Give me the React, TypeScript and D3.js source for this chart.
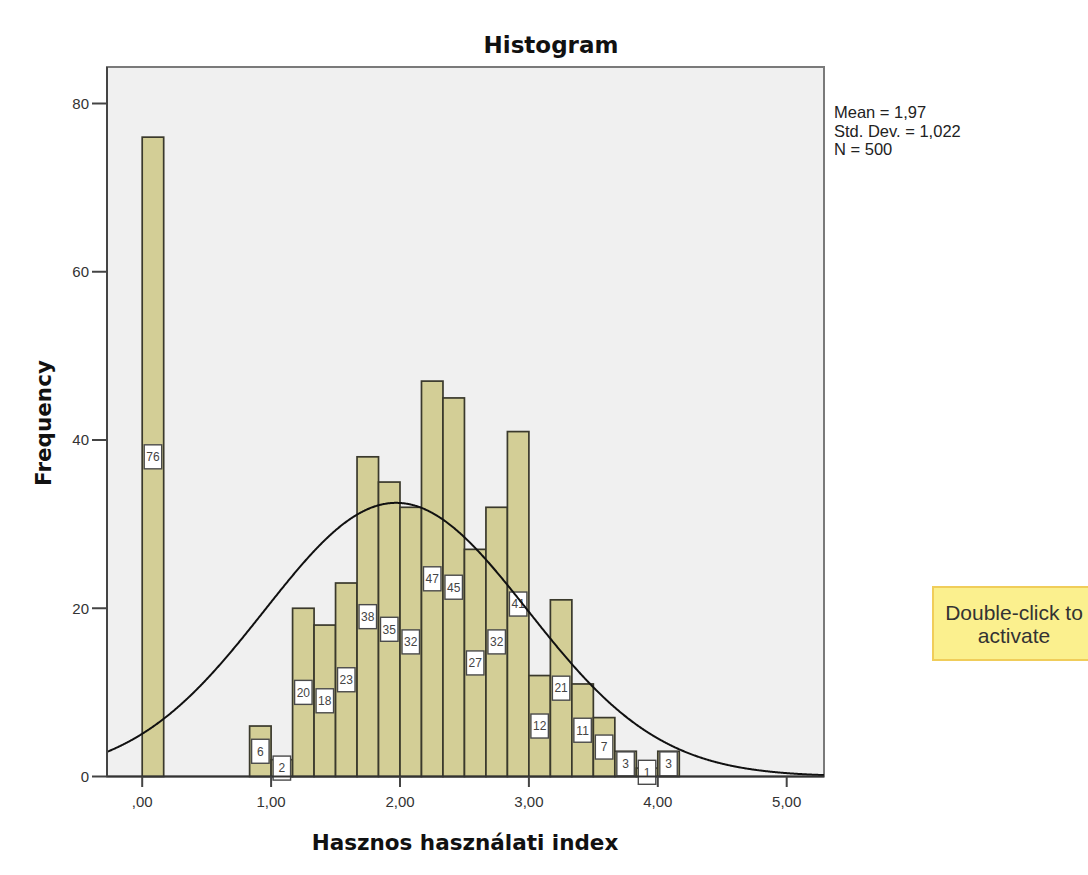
import React from 'react';
import * as d3 from 'd3';

// ---- data ----
const binStarts = [0.0, 0.8333, 1.0, 1.1667, 1.3333, 1.5, 1.6667, 1.8333, 2.0, 2.1667, 2.3333, 2.5, 2.6667, 2.8333, 3.0, 3.1667, 3.3333, 3.5, 3.6667, 3.8333, 4.0];
const counts = [76, 6, 2, 20, 18, 23, 38, 35, 32, 47, 45, 27, 32, 41, 12, 21, 11, 7, 3, 1, 3];
const binWidth = 1 / 6;
const xTicks = [0, 1, 2, 3, 4, 5];
const xTickLabels = [',00', '1,00', '2,00', '3,00', '4,00', '5,00'];
const yTicks = [0, 20, 40, 60, 80];
const statLines = ['Mean = 1,97', 'Std. Dev. = 1,022', 'N = 500'];
const mean = 1.97;
const stdDev = 1.022;
const nTotal = 500;

const BOLD = '"DejaVu Sans", Verdana, sans-serif';
const REG = '"Liberation Sans", Arial, sans-serif';

export default function App() {
  const plotLeft = 107;
  const plotRight = 824;
  const plotTop = 67;
  const plotBottom = 776.5;

  const x = d3.scaleLinear().domain([0, 5]).range([142.2, 786.7]);
  const y = d3.scaleLinear().domain([0, 80]).range([776.5, 103.5]);

  const pdf = (v: number) =>
    (nTotal * binWidth) / (stdDev * Math.sqrt(2 * Math.PI)) *
    Math.exp(-0.5 * ((v - mean) / stdDev) ** 2);
  const xs = d3.range(x.invert(plotLeft), x.invert(plotRight) + 0.005, 0.005);
  const line = d3
    .line<number>()
    .x((d) => x(d))
    .y((d) => y(pdf(d)))
    .curve(d3.curveLinear);

  return (
    <svg
      width={1088}
      height={875}
      style={{ position: 'absolute', left: 0, top: 0, background: '#fff' }}
    >
      <defs>
        <clipPath id="plotClip">
          <rect x={plotLeft} y={plotTop} width={plotRight - plotLeft} height={plotBottom - plotTop + 12} />
        </clipPath>
      </defs>
      {/* title */}
      <text x={551} y={53} textAnchor="middle" fontFamily={BOLD} fontWeight="bold" fontSize={23} fill="#111">
        Histogram
      </text>

      {/* plot background & frame */}
      <rect
        x={plotLeft}
        y={plotTop}
        width={plotRight - plotLeft}
        height={plotBottom - plotTop}
        fill="#F0F0F0"
        stroke="#7a7a7a"
        strokeWidth={2}
      />

      {/* bars */}
      {counts.map((c, i) => (
        <rect
          key={'b' + i}
          x={x(binStarts[i])}
          y={y(c)}
          width={x(binStarts[i] + binWidth) - x(binStarts[i])}
          height={y(0) - y(c)}
          fill="#D3CE96"
          stroke="#3a392c"
          strokeWidth={1.7}
        />
      ))}

      {/* value labels */}
      {counts.map((c, i) => {
        const x0 = x(binStarts[i]);
        const w = x(binStarts[i] + binWidth) - x0;
        const cy = y(c / 2);
        return (
          <g key={'l' + i}>
            <rect
              x={x0 + 2}
              y={cy - 12}
              width={w - 4}
              height={24}
              fill="#ffffff"
              stroke="#4a4a4a"
              strokeWidth={1.4}
            />
            <text
              x={x0 + w / 2}
              y={cy + 4.3}
              textAnchor="middle"
              fontFamily={REG}
              fontSize={12}
              fill="#444"
            >
              {c}
            </text>
          </g>
        );
      })}

      {/* normal curve */}
      <path d={line(xs) || ''} fill="none" stroke="#111" strokeWidth={2} clipPath="url(#plotClip)" />

      {/* axes lines */}
      <line x1={plotLeft} x2={plotRight} y1={plotBottom} y2={plotBottom} stroke="#333" strokeWidth={2} />
      <line x1={plotLeft} x2={plotLeft} y1={plotTop} y2={plotBottom} stroke="#444" strokeWidth={2} />

      {/* y ticks */}
      {yTicks.map((t) => (
        <g key={'yt' + t}>
          <line x1={92} x2={plotLeft} y1={y(t)} y2={y(t)} stroke="#444" strokeWidth={2} />
          <text x={89} y={y(t) + 5.3} textAnchor="end" fontFamily={REG} fontSize={15} fill="#333">
            {t}
          </text>
        </g>
      ))}

      {/* x ticks */}
      {xTicks.map((t, i) => (
        <g key={'xt' + t}>
          <line x1={x(t)} x2={x(t)} y1={plotBottom} y2={787} stroke="#444" strokeWidth={2} />
          <text x={x(t)} y={807} textAnchor="middle" fontFamily={REG} fontSize={15} fill="#333">
            {xTickLabels[i]}
          </text>
        </g>
      ))}

      {/* axis titles */}
      <text x={465} y={850} textAnchor="middle" fontFamily={BOLD} fontWeight="bold" fontSize={21.5} fill="#111">
        Hasznos használati index
      </text>
      <text
        transform={`translate(51, 423) rotate(-90)`}
        textAnchor="middle"
        fontFamily={BOLD}
        fontWeight="bold"
        fontSize={21.5}
        fill="#111"
      >
        Frequency
      </text>

      {/* stats legend */}
      {statLines.map((s, i) => (
        <text key={'s' + i} x={834} y={118 + i * 18.5} fontFamily={REG} fontSize={16.5} fill="#222">
          {s}
        </text>
      ))}

      {/* yellow note */}
      <rect x={933} y={587} width={165} height={73} fill="#FBF08E" stroke="#F0CD5A" strokeWidth={2} />
      <text x={1014} y={620} textAnchor="middle" fontFamily={REG} fontSize={21} fill="#333">
        Double-click to
      </text>
      <text x={1014} y={643} textAnchor="middle" fontFamily={REG} fontSize={21} fill="#333">
        activate
      </text>
    </svg>
  );
}
